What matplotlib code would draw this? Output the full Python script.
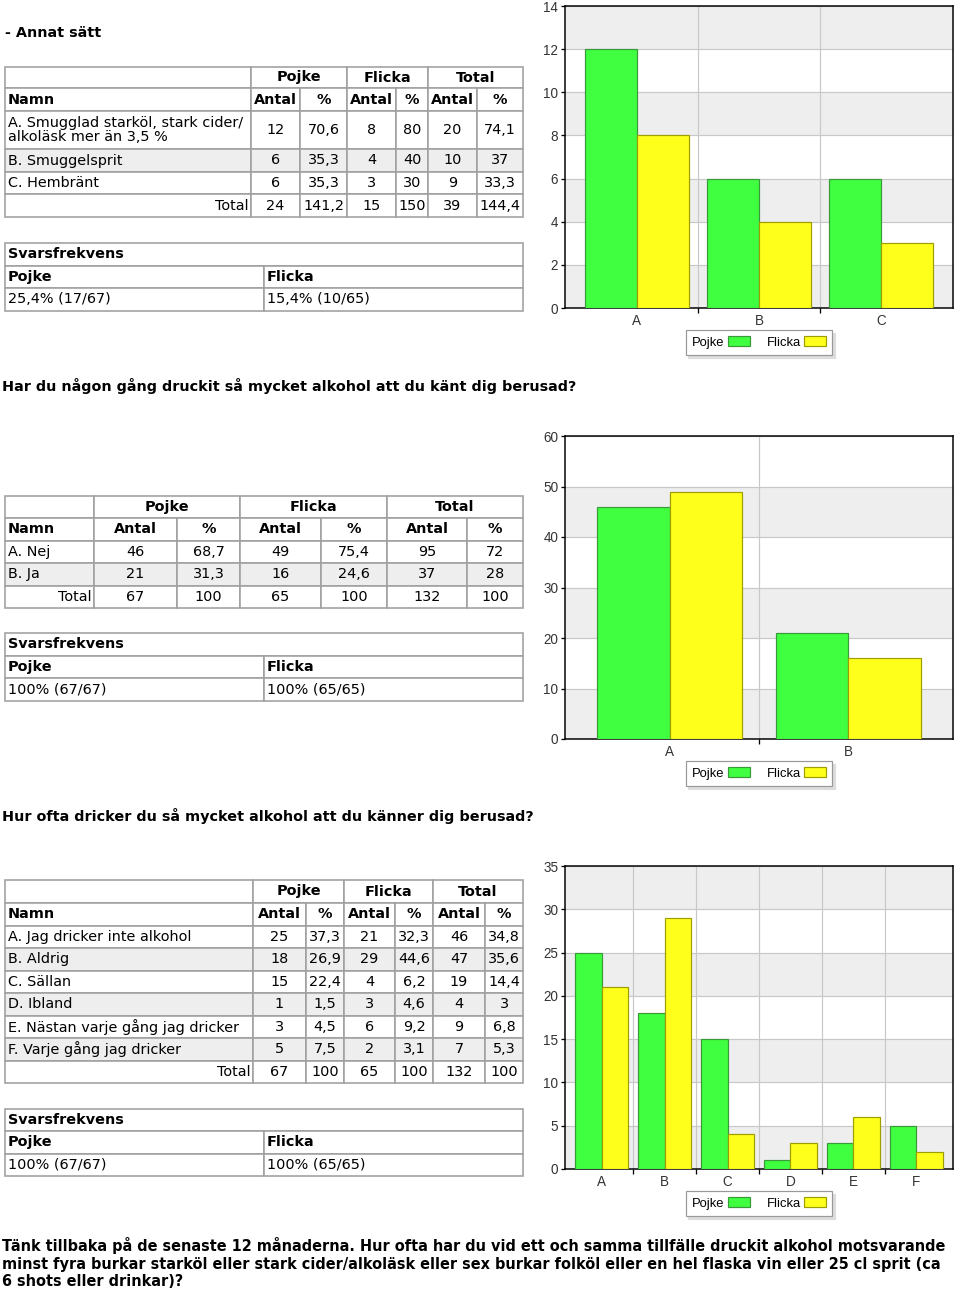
import matplotlib
matplotlib.use("Agg")
import matplotlib.pyplot as plt
from matplotlib.patches import Rectangle
import numpy as np

# ---------------- data ----------------
title1 = "- Annat sätt"
q1_names = ["A. Smugglad starköl, stark cider/\nalkoläsk mer än 3,5 %", "B. Smuggelsprit", "C. Hembränt"]
q1_pojke_n = [12, 6, 6]
q1_pojke_pct = ["70,6", "35,3", "35,3"]
q1_flicka_n = [8, 4, 3]
q1_flicka_pct = ["80", "40", "30"]
q1_total_n = [20, 10, 9]
q1_total_pct = ["74,1", "37", "33,3"]
q1_totals = ["24", "141,2", "15", "150", "39", "144,4"]
q1_svar = ["25,4% (17/67)", "15,4% (10/65)"]

title2 = "Har du någon gång druckit så mycket alkohol att du känt dig berusad?"
q2_names = ["A. Nej", "B. Ja"]
q2_pojke_n = [46, 21]
q2_pojke_pct = ["68,7", "31,3"]
q2_flicka_n = [49, 16]
q2_flicka_pct = ["75,4", "24,6"]
q2_total_n = [95, 37]
q2_total_pct = ["72", "28"]
q2_totals = ["67", "100", "65", "100", "132", "100"]
q2_svar = ["100% (67/67)", "100% (65/65)"]

title3 = "Hur ofta dricker du så mycket alkohol att du känner dig berusad?"
q3_names = ["A. Jag dricker inte alkohol", "B. Aldrig", "C. Sällan", "D. Ibland",
            "E. Nästan varje gång jag dricker", "F. Varje gång jag dricker"]
q3_pojke_n = [25, 18, 15, 1, 3, 5]
q3_pojke_pct = ["37,3", "26,9", "22,4", "1,5", "4,5", "7,5"]
q3_flicka_n = [21, 29, 4, 3, 6, 2]
q3_flicka_pct = ["32,3", "44,6", "6,2", "4,6", "9,2", "3,1"]
q3_total_n = [46, 47, 19, 4, 9, 7]
q3_total_pct = ["34,8", "35,6", "14,4", "3", "6,8", "5,3"]
q3_totals = ["67", "100", "65", "100", "132", "100"]
q3_svar = ["100% (67/67)", "100% (65/65)"]

title4 = ["Tänk tillbaka på de senaste 12 månaderna. Hur ofta har du vid ett och samma tillfälle druckit alkohol motsvarande",
          "minst fyra burkar starköl eller stark cider/alkoläsk eller sex burkar folköl eller en hel flaska vin eller 25 cl sprit (ca",
          "6 shots eller drinkar)?"]

series_names = ["Pojke", "Flicka"]
group_headers = ["Pojke", "Flicka", "Total"]
sub_headers = ["Antal", "%", "Antal", "%", "Antal", "%"]

# ---------------- style ----------------
W, H = 960, 1290
PX = 72 / 100.0
FS = 14.4 * PX
CFS = 13.5 * PX
TFONT = "DejaVu Sans"
CFONT = "Liberation Sans"
BORDER = "#A0A0A0"
SHADE = "#EEEEEE"
GREEN, GREEN_E = "#40FF40", "#3A9A3A"
YELLOW, YELLOW_E = "#FFFF1C", "#9E9E00"

fig = plt.figure(figsize=(W / 100, H / 100), dpi=100)
bg = fig.add_axes([0, 0, 1, 1])
bg.set_xlim(0, W)
bg.set_ylim(H, 0)
bg.axis("off")


def txt(x, y, s, ha="left", bold=False, **kw):
    return bg.text(x, y, s, ha=ha, va="center", fontsize=kw.pop("fs", FS),
                   family=TFONT, weight="bold" if bold else "normal", color="black", **kw)


def cell(x0, x1, y0, y1, face="white"):
    bg.add_patch(Rectangle((x0, y0), x1 - x0, y1 - y0, facecolor=face,
                           edgecolor=BORDER, lw=1.6 * PX, zorder=1))


def main_table(cols, rows, names, pn, pp, fn, fp, tn, tp, totals):
    cell(cols[0], cols[1], rows[0], rows[1])
    for g in range(3):
        cell(cols[1 + 2 * g], cols[3 + 2 * g], rows[0], rows[1])
        txt((cols[1 + 2 * g] + cols[3 + 2 * g]) / 2, (rows[0] + rows[1]) / 2,
            group_headers[g], ha="center", bold=True)
    yc = (rows[1] + rows[2]) / 2
    cell(cols[0], cols[1], rows[1], rows[2])
    txt(cols[0] + 3, yc, "Namn", bold=True)
    for j in range(6):
        cell(cols[1 + j], cols[2 + j], rows[1], rows[2])
        txt((cols[1 + j] + cols[2 + j]) / 2, yc, sub_headers[j], ha="center", bold=True)
    for i, name in enumerate(names):
        y0, y1 = rows[2 + i], rows[3 + i]
        yc = (y0 + y1) / 2
        face = SHADE if i % 2 == 1 else "white"
        vals = [str(pn[i]), pp[i], str(fn[i]), fp[i], str(tn[i]), tp[i]]
        cell(cols[0], cols[1], y0, y1, face)
        txt(cols[0] + 3, yc, name, linespacing=1.0)
        for j in range(6):
            cell(cols[1 + j], cols[2 + j], y0, y1, face)
            txt((cols[1 + j] + cols[2 + j]) / 2, yc, vals[j], ha="center")
    y0, y1 = rows[-2], rows[-1]
    yc = (y0 + y1) / 2
    cell(cols[0], cols[1], y0, y1)
    txt(cols[1] - 2, yc, "Total", ha="right")
    for j in range(6):
        cell(cols[1 + j], cols[2 + j], y0, y1)
        txt((cols[1 + j] + cols[2 + j]) / 2, yc, totals[j], ha="center")


def svar_table(x0, xs, x1, rows, vals):
    cell(x0, x1, rows[0], rows[1])
    txt(x0 + 3, (rows[0] + rows[1]) / 2, "Svarsfrekvens", bold=True)
    for k, (a, b) in enumerate([(x0, xs), (xs, x1)]):
        cell(a, b, rows[1], rows[2])
        txt(a + 3, (rows[1] + rows[2]) / 2, series_names[k], bold=True)
        cell(a, b, rows[2], rows[3])
        txt(a + 3, (rows[2] + rows[3]) / 2, vals[k])


def chart(top, bottom, cats, boys, girls, ymax, ystep, bw, leg_cy):
    left, right = 565, 953
    ax = fig.add_axes([left / W, 1 - bottom / H, (right - left) / W, (bottom - top) / H])
    n = len(cats)
    x = np.arange(n)
    b1 = ax.bar(x - bw / 2, boys, bw, color=GREEN, edgecolor=GREEN_E, lw=1.2 * PX, zorder=3)
    b2 = ax.bar(x + bw / 2, girls, bw, color=YELLOW, edgecolor=YELLOW_E, lw=1.2 * PX, zorder=3)
    ax.set_xlim(-0.585, n - 1 + 0.585)
    ax.set_ylim(0, ymax)
    yt = np.arange(0, ymax + ystep / 2, ystep)
    for i in range(len(yt) - 1):
        if i % 2 == 0:
            ax.axhspan(yt[i], yt[i + 1], facecolor=SHADE, lw=0, zorder=0)
    ax.set_yticks(yt)
    ax.set_yticklabels([f"{v:g}" for v in yt], family=CFONT, fontsize=CFS, color="#333333")
    ax.set_xticks(x[:-1] + 0.5)
    ax.set_xticklabels([])
    ax.set_xticks(x, cats, minor=True)
    for lab in ax.get_xticklabels(minor=True):
        lab.set_family(CFONT)
        lab.set_fontsize(CFS)
        lab.set_color("#333333")
    ax.tick_params(axis="x", which="minor", length=0, pad=4)
    ax.tick_params(axis="x", which="major", length=5 * PX, width=1.3 * PX, color="black")
    ax.tick_params(axis="y", length=4 * PX, width=1.3 * PX, color="black", pad=2)
    ax.grid(True, which="major", color="#C8C8C8", lw=1.2 * PX)
    ax.set_axisbelow(True)
    for s in ax.spines.values():
        s.set_color("black")
        s.set_linewidth(1.5 * PX)
    lfs = 13
    leg = ax.legend([b1, b2], series_names, ncol=2, markerfirst=False, loc="center",
                    bbox_to_anchor=(759 / W, 1 - leg_cy / H), bbox_transform=fig.transFigure,
                    frameon=True, fancybox=False, edgecolor="#999999", framealpha=1,
                    prop={"family": CFONT, "size": lfs * PX}, handlelength=22 / lfs,
                    handleheight=10 / lfs, handletextpad=3 / lfs, columnspacing=17 / lfs,
                    borderpad=0.5, borderaxespad=0,
                    shadow={"color": "#dddddd", "alpha": 1})
    leg.get_frame().set_linewidth(1.2 * PX)
    bg.plot([758, 758], [leg_cy - 12, leg_cy + 12], color="#CCCCCC", lw=1 * PX, zorder=5)
    return ax


# ---------------- section 1 ----------------
txt(5, 33, title1, bold=True)
main_table([5, 251, 300, 347, 396, 428, 477, 523], [67, 88, 111, 149, 172, 194, 217],
           q1_names, q1_pojke_n, q1_pojke_pct, q1_flicka_n, q1_flicka_pct,
           q1_total_n, q1_total_pct, q1_totals)
svar_table(5, 264, 523, [243, 265.5, 288, 310.5], q1_svar)
chart(6, 308, ["A", "B", "C"], q1_pojke_n, q1_flicka_n, 14, 2, 0.425, 342.5)

# ---------------- section 2 ----------------
txt(2, 386, title2, bold=True)
main_table([5, 94, 177, 240, 321, 387, 467, 523], [496, 518, 540.5, 563, 585.5, 608],
           q2_names, q2_pojke_n, q2_pojke_pct, q2_flicka_n, q2_flicka_pct,
           q2_total_n, q2_total_pct, q2_totals)
svar_table(5, 264, 523, [633, 655.5, 678, 700.5], q2_svar)
chart(436, 739, ["A", "B"], q2_pojke_n, q2_flicka_n, 60, 10, 0.405, 773.5)

# ---------------- section 3 ----------------
txt(2, 816, title3, bold=True)
main_table([5, 253, 306, 344, 395, 433, 485, 523],
           [880, 903, 925.5, 948, 970.5, 993, 1015.5, 1038, 1060.5, 1083],
           q3_names, q3_pojke_n, q3_pojke_pct, q3_flicka_n, q3_flicka_pct,
           q3_total_n, q3_total_pct, q3_totals)
svar_table(5, 264, 523, [1108.5, 1131, 1153.5, 1176], q3_svar)
chart(866, 1169, ["A", "B", "C", "D", "E", "F"], q3_pojke_n, q3_flicka_n, 35, 5, 0.42, 1203.5)

# ---------------- section 4 title ----------------
renderer = fig.canvas.get_renderer()
t4 = [txt(2, y, s, bold=True) for y, s in zip([1246, 1264, 1281], title4)]
fs4 = FS
for _ in range(3):
    w0 = t4[0].get_window_extent(renderer).width
    fs4 = fs4 * 944 / w0
    for t in t4:
        t.set_fontsize(fs4)

fig.savefig("out.png", dpi=100)
